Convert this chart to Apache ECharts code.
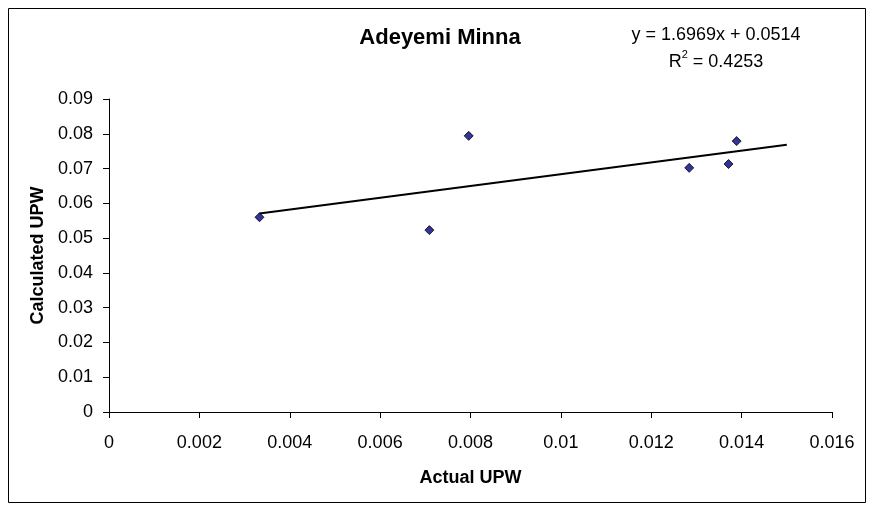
<!DOCTYPE html>
<html>
<head>
<meta charset="utf-8">
<script src="https://cdn.jsdelivr.net/npm/echarts@6/dist/echarts.min.js"></script>
<style>
html,body{margin:0;padding:0;background:#fff;}
#c{width:873px;height:510px;}
</style>
</head>
<body>
<div id="c"></div>
<script>
const actualUPW = [0.00333, 0.00709, 0.00796, 0.01284, 0.01371, 0.01389];
const calculatedUPW = [0.0560, 0.0523, 0.0794, 0.0702, 0.0713, 0.0779];
const trendSlope = 1.6969;
const trendIntercept = 0.0514;
const trendRange = [0.00333, 0.015];
const xTicks = ['0','0.002','0.004','0.006','0.008','0.01','0.012','0.014','0.016'];
const yTicks = ['0','0.01','0.02','0.03','0.04','0.05','0.06','0.07','0.08','0.09'];

const points = actualUPW.map((x, i) => [x, calculatedUPW[i]]);
const trend = trendRange.map(x => [x, trendSlope * x + trendIntercept]);
const font = 'Arial, "Liberation Sans", sans-serif';

const chart = echarts.init(document.getElementById('c'));
chart.setOption({
  animation: false,
  backgroundColor: '#fff',
  textStyle: { fontFamily: font },
  graphic: [
    { type: 'rect', shape: { x: 8.5, y: 8.5, width: 857, height: 494 },
      style: { fill: null, stroke: '#000', lineWidth: 1 }, silent: true, z: -1 },
    { type: 'text', x: 440, y: 38,
      style: { text: 'Adeyemi Minna', font: 'bold 22px ' + font, fill: '#000',
        textAlign: 'center', textVerticalAlign: 'middle' } },
    { type: 'text', x: 716, y: 35,
      style: { text: 'y = 1.6969x + 0.0514', font: '18px ' + font, fill: '#000',
        textAlign: 'center', textVerticalAlign: 'middle' } },
    { type: 'text', x: 716, y: 60,
      style: { text: '{n|R}{s|2}{n| = 0.4253}', textAlign: 'center', textVerticalAlign: 'middle',
        rich: { n: { fontSize: 18, fontFamily: font, color: '#000', verticalAlign: 'bottom', lineHeight: 22 },
                s: { fontSize: 11, fontFamily: font, color: '#000', verticalAlign: 'top', lineHeight: 22, padding: [0,0,10,0] } } } }
  ],
  grid: { left: 109, right: 41, top: 99, bottom: 98, containLabel: false },
  xAxis: {
    type: 'value', min: 0, max: 0.016, interval: 0.002,
    name: 'Actual UPW', nameLocation: 'middle', nameGap: 57,
    nameTextStyle: { fontFamily: font, fontSize: 18, fontWeight: 'bold', color: '#000' },
    axisLine: { show: true, onZero: false, lineStyle: { color: '#000', width: 1 } },
    axisTick: { show: true, length: 6, inside: false, lineStyle: { color: '#000' } },
    axisLabel: { fontFamily: font, fontSize: 18, color: '#000', margin: 22,
      formatter: (v) => xTicks[Math.round(v / 0.002)] },
    splitLine: { show: false }
  },
  yAxis: {
    type: 'value', min: 0, max: 0.09, interval: 0.01,
    name: 'Calculated UPW', nameLocation: 'middle', nameGap: 62, nameRotate: 90,
    nameTextStyle: { fontFamily: font, fontSize: 18, fontWeight: 'bold', color: '#000' },
    axisLine: { show: true, lineStyle: { color: '#000', width: 1 } },
    axisTick: { show: true, length: 6, inside: false, lineStyle: { color: '#000' } },
    axisLabel: { fontFamily: font, fontSize: 18, color: '#000', margin: 16,
      formatter: (v) => yTicks[Math.round(v / 0.01)] },
    splitLine: { show: false }
  },
  series: [
    { type: 'line', data: trend, symbol: 'none',
      lineStyle: { color: '#000', width: 2 }, z: 1, silent: true },
    { type: 'scatter', data: points, symbol: 'diamond', symbolSize: 9,
      itemStyle: { color: '#000080', borderColor: '#000', borderWidth: 1 }, z: 3 }
  ]
});
</script>
</body>
</html>
